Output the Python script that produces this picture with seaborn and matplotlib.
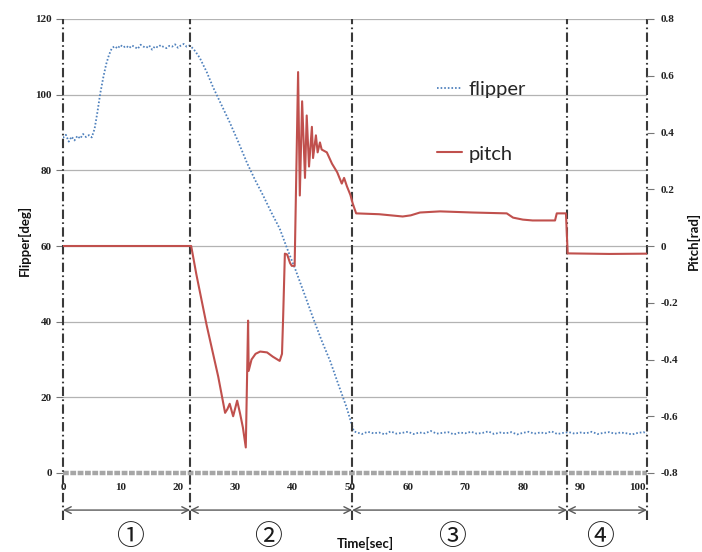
import matplotlib
matplotlib.use("Agg")
import matplotlib.pyplot as plt
import seaborn as sns
import pandas as pd
from matplotlib.lines import Line2D

# ---------------- data ----------------
flip_t = [0, 0.5, 1, 1.5, 2, 2.5, 3, 3.5, 4, 4.5, 5, 5.5, 6, 6.5, 7, 7.5, 8, 8.5,
          9, 9.5, 10, 10.5, 11, 11.5, 12, 12.5, 13, 13.5, 14, 14.5, 15, 15.5, 16,
          16.5, 17, 17.5, 18, 18.5, 19, 19.5, 20, 20.5, 21, 21.5, 22,
          22.4, 23, 23.8, 25, 26.1, 27.5, 29, 30.5, 32, 33.4, 34.8, 36.2, 37.7,
          39, 40.5, 42, 43.5, 45, 46.5, 48, 49.3, 50.3, 50.6,
          51, 52, 53, 54, 55, 56, 57, 58, 59, 60, 61, 62, 63, 64, 65, 66, 67, 68,
          69, 70, 71, 72, 73, 74, 75, 76, 77, 78, 79, 80, 81, 82, 83, 84, 85, 86,
          87, 88, 89, 90, 91, 92, 93, 94, 95, 96, 97, 98, 99, 100, 101, 101.6]
flip_deg = [88.6, 89.4, 87.6, 88.9, 87.9, 89.1, 88.4, 89.6, 88.8, 89.3, 88.7, 91.0,
            95.5, 100.5, 104.5, 108.0, 110.5, 112.3, 112.8, 112.2, 113.1, 112.5,
            112.9, 112.3, 113.0, 112.6, 112.1, 113.2, 112.7, 112.4, 113.0, 111.9,
            112.8, 112.5, 113.1, 112.6, 112.3, 112.9, 112.7, 113.3, 112.4, 113.0,
            113.4, 112.7, 113.0,
            112.5, 111.5, 109.7, 106.0, 102.0, 97.5, 92.7, 87.5, 82.0, 77.5, 73.4,
            69.0, 64.6, 59.3, 53.5, 47.3, 41.0, 35.0, 29.5, 23.0, 17.5, 12.5, 11.0,
            10.8, 10.3, 10.9, 10.5, 10.7, 10.2, 11.0, 10.4, 10.6, 10.9, 10.3, 10.7,
            10.5, 11.1, 10.4, 10.6, 10.8, 10.2, 10.7, 10.5, 10.9, 10.4, 10.6, 11.0,
            10.3, 10.7, 10.5, 10.8, 10.2, 10.6, 10.9, 10.4, 10.7, 10.5, 11.0, 10.3,
            10.6, 10.8, 10.4, 10.7, 10.5, 10.9, 10.3, 10.6, 10.8, 10.4, 10.7, 10.5,
            10.2, 10.6, 10.8, 10.4]

pitch_t = [0, 10, 22.3, 23.2, 25.0, 27.0, 28.2, 28.6, 29.0, 29.6, 30.3, 30.8,
           31.3, 31.8, 32.2, 32.3, 32.8, 33.5, 34.3, 35.5, 36.5, 37.7, 38.1,
           38.3, 38.6, 39.0, 39.5, 39.8, 40.3, 40.9, 41.2, 41.6, 42.1, 42.4,
           42.8, 43.3, 43.5, 44.0, 44.3, 44.7, 45.0, 45.9, 46.8, 47.7, 48.5,
           48.9, 49.4, 50.0, 50.4, 51.0, 55.0, 59.1, 60.5, 62.1, 65.6, 71.3,
           77.2, 78.3, 80.0, 81.7, 85.6, 85.9, 87.5, 87.8, 95.0, 101.6]
pitch_rad = [0.0, 0.0, 0.0, -0.10, -0.28, -0.46, -0.588, -0.575, -0.556, -0.60,
             -0.545, -0.59, -0.64, -0.71, -0.263, -0.44, -0.40, -0.38, -0.372,
             -0.375, -0.39, -0.405, -0.38, -0.25, -0.027, -0.03, -0.06, -0.07,
             -0.07, 0.613, 0.178, 0.51, 0.24, 0.46, 0.28, 0.42, 0.31, 0.39, 0.33,
             0.365, 0.34, 0.33, 0.29, 0.26, 0.22, 0.24, 0.21, 0.18, 0.15, 0.115,
             0.112, 0.104, 0.108, 0.118, 0.122, 0.118, 0.115, 0.10, 0.093, 0.09,
             0.09, 0.115, 0.115, -0.026, -0.028, -0.027]

x_ticks = [0, 10, 20, 30, 40, 50, 60, 70, 80, 90, 100]
left_ticks = [0, 20, 40, 60, 80, 100, 120]
right_ticks = [-0.8, -0.6, -0.4, -0.2, 0, 0.2, 0.4, 0.6, 0.8]
right_labels = ["-0.8", "-0.6", "-0.4", "-0.2", "0", "0.2", "0.4", "0.6", "0.8"]
phase_bounds = [0, 22.1, 50.3, 87.7, 101.6]
phase_labels = ["\u2460", "\u2461", "\u2462", "\u2463"]
phase_label_t = [11.7, 35.6, 67.7, 93.4]

flip_df = pd.DataFrame({"t": flip_t, "flipper": flip_deg})
pitch_df = pd.DataFrame({"t": pitch_t, "pitch": pitch_rad})

# ---------------- style ----------------
sns.set_style("white")
plt.rcParams["font.family"] = ["DejaVu Sans"]

BLUE = "#4F81BD"
RED = "#C0504D"

fig = plt.figure(figsize=(7.02, 5.52), dpi=100)
ax = fig.add_axes([63 / 702, 1 - 473 / 552, 584 / 702, 454 / 552])
ax2 = ax.twinx()

ax.set_xlim(0, 101.6)
ax.set_ylim(0, 120)
ax2.set_ylim(-0.8, 0.8)

for s in ax.spines.values():
    s.set_visible(False)
for s in ax2.spines.values():
    s.set_visible(False)

# grid lines
for g in left_ticks[1:]:
    ax.axhline(g, color="#B3B3B3", lw=0.9, zorder=0)

# zero baseline (thick gray dashed)
ax.plot([0, 101.6], [0, 0], color="#A6A6A6", lw=3.2,
        linestyle=(0, (1.3, 0.35)), clip_on=False, zorder=1)

# series
sns.lineplot(data=flip_df, x="t", y="flipper", ax=ax, color=BLUE, lw=1.3,
             linestyle=(0, (0.9, 1.1)), estimator=None, sort=False, zorder=3)
sns.lineplot(data=pitch_df, x="t", y="pitch", ax=ax2, color=RED, lw=1.5,
             estimator=None, sort=False, zorder=3)

# phase boundaries (dash-dot lines extending below axis)
for b in phase_bounds:
    ax.plot([b, b], [-12.5, 120], color="#3A3A3A", lw=1.5,
            linestyle=(0, (4.5, 1.6, 0.8, 1.6)), clip_on=False, zorder=4)

# arrows and phase labels
for i in range(4):
    ax.annotate("", xy=(phase_bounds[i + 1], -9.8), xytext=(phase_bounds[i], -9.8),
                xycoords="data", annotation_clip=False,
                arrowprops=dict(arrowstyle="<->", color="#595959", lw=1.0,
                                shrinkA=0, shrinkB=0, mutation_scale=12))
    ax.text(phase_label_t[i], -17.0, phase_labels[i], ha="center", va="center",
            fontsize=20, family=["Noto Sans CJK JP", "DejaVu Sans"],
            color="#1a1a1a", clip_on=False)

# ticks
tick_font = dict(family="Liberation Serif", weight="bold", size=8)
ax.set_xticks(x_ticks)
ax.set_xticklabels([str(v) for v in x_ticks], **tick_font)
ax.set_yticks(left_ticks)
ax.set_yticklabels([str(v) for v in left_ticks], **tick_font)
ax2.set_yticks(right_ticks)
ax2.set_yticklabels(right_labels, **tick_font)
ax.tick_params(axis="x", length=0, pad=7, colors="#222222")
ax.tick_params(axis="y", length=5, width=0.8, color="#777777", pad=3,
               labelcolor="#222222", left=True)
ax2.tick_params(axis="y", length=5, width=0.8, color="#777777", pad=5,
                labelcolor="#222222", right=True)

# axis labels
lab_font = dict(family="Lato", weight="bold", size=9.5, color="#111111")
ax.set_xlabel("")
ax.set_ylabel("")
ax2.set_ylabel("")
fig.text(24 / 702, 1 - 240 / 552, "Flipper[deg]", rotation=90, ha="center",
         va="center", **lab_font)
fig.text(693 / 702, 1 - 241 / 552, "Pitch[rad]", rotation=90, ha="center",
         va="center", **lab_font)
fig.text(365 / 702, 1 - 543 / 552, "Time[sec]", ha="center", va="center",
         **lab_font)

# legend
handles = [Line2D([], [], color=BLUE, lw=1.3, linestyle=(0, (0.9, 1.1))),
           Line2D([], [], color=RED, lw=1.5)]
leg = ax2.legend(handles, ["flipper", "pitch"], loc="upper left",
                 bbox_to_anchor=((437 - 63) / 584, 1 - (81 - 19) / 454),
                 frameon=False, borderpad=0, borderaxespad=0,
                 handlelength=1.25, handletextpad=0.3, labelspacing=2.35,
                 prop=dict(family="Lato", size=14.5))

fig.savefig("out.png", dpi=100, facecolor="white")
